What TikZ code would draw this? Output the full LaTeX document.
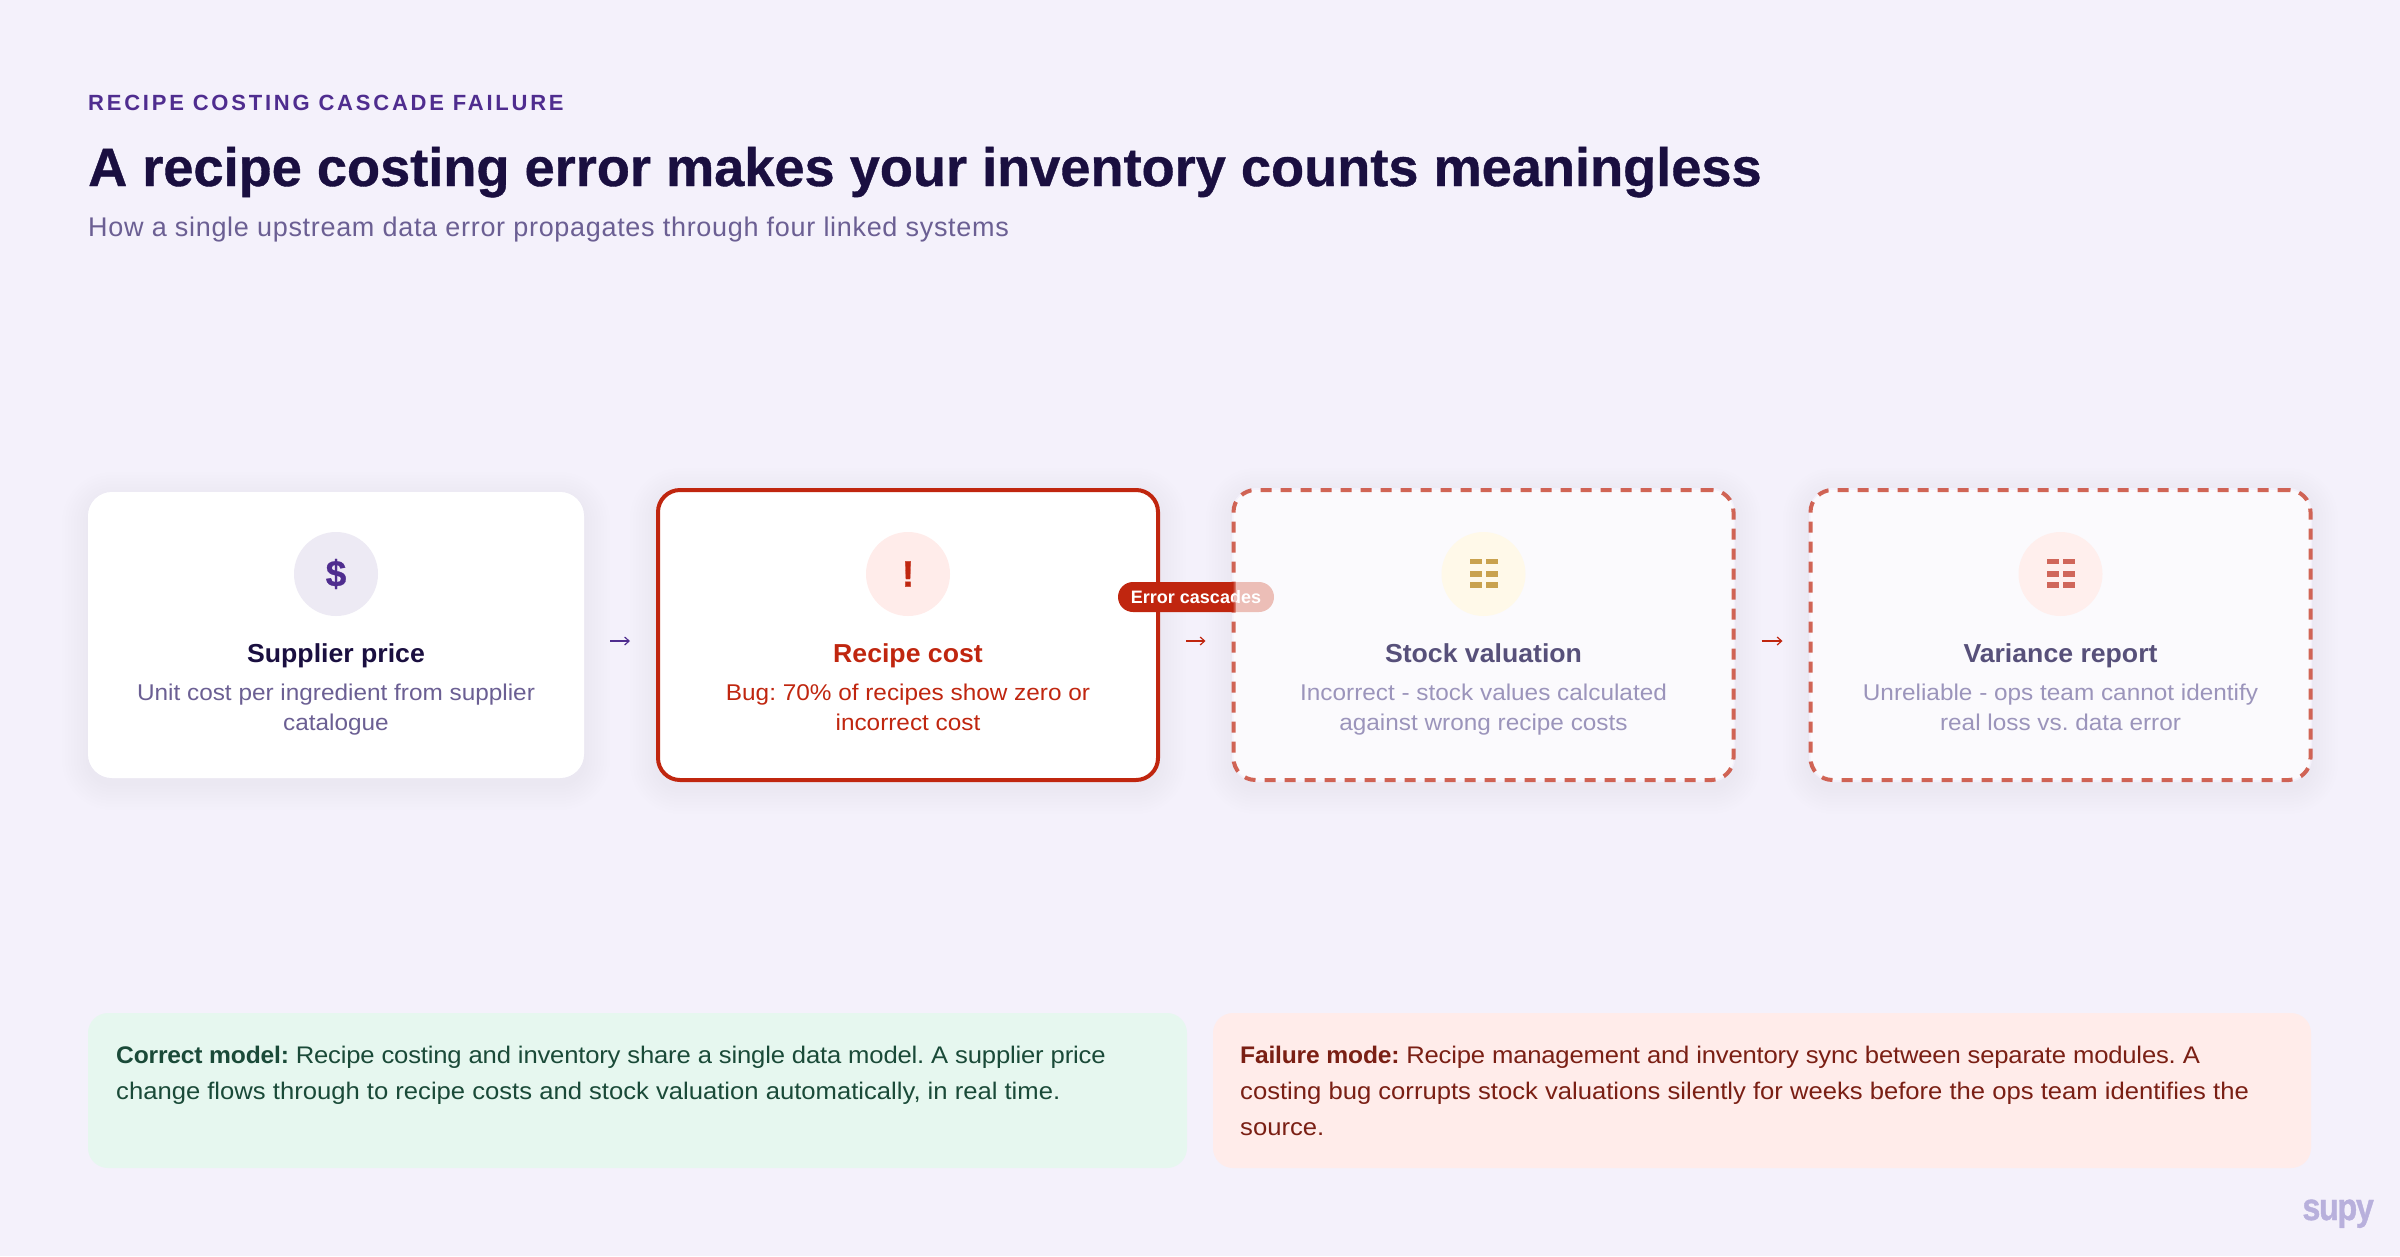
\documentclass[tikz,border=0pt]{standalone}
\usepackage{fontspec}
\setmainfont{Liberation Sans}
\newfontfamily\headfont[FakeBold=.7,FakeStretch=1.003]{Liberation Sans Bold}
\newfontfamily\bodyfont[FakeStretch=1.068,BoldFeatures={FakeStretch=1.025}]{Liberation Sans}
\newfontfamily\logofont[FakeStretch=.85,FakeBold=1]{Liberation Sans Bold}
\usetikzlibrary{arrows.meta}
\definecolor{pagebg}{HTML}{F4F1FB}
\definecolor{ink}{HTML}{1A0F40}
\definecolor{grape}{HTML}{4F2D8F}
\definecolor{muted}{HTML}{6B5F93}
\definecolor{alarm}{HTML}{C0260F}
\definecolor{fadedink}{HTML}{57507A}
\definecolor{fadedmuted}{HTML}{9B94BB}
\definecolor{amber}{HTML}{C9A24E}
\definecolor{coral}{HTML}{D0665A}
\definecolor{mint}{HTML}{E6F7EF}
\definecolor{blush}{HTML}{FFECEA}
\definecolor{pine}{HTML}{1A4A38}
\definecolor{oxblood}{HTML}{7A1F14}
\definecolor{logotint}{HTML}{B8B0DC}
\newcommand{\fs}[2]{\fontsize{#1}{#2}\selectfont}
\newcommand{\snug}{\addfontfeatures{LetterSpace=-.75}}
\newcommand{\cardglow}[4]{%
  \foreach \g in {2,5,...,26}
    \fill[grape,opacity=.005,rounded corners=24pt+\g pt]
      ({#1-\g},{#2-\g+6}) rectangle ({#3+\g},{#4+\g+6});
  \fill[pagebg,rounded corners=24pt] (#1,#2) rectangle (#3,#4);}
\newcommand{\minigrid}[3]{%
  \foreach \r in {-12.5,0,11}
    \foreach \c in {-14,2}
      \fill[#3] ({#1+\c},{#2+\r-3}) rectangle ++(12.5,5.5);}
\tikzset{
  card/.style={rectangle,rounded corners=22pt,minimum width=500pt,minimum height=290pt,inner sep=0pt,fill=white},
  cardred/.style={card,draw=alarm,line width=4pt},
  carddash/.style={card,fill opacity=.7,draw=alarm,draw opacity=.7,line width=4pt,dash pattern=on 11pt off 9pt},
  badge/.style={circle,minimum size=84pt,inner sep=0pt},
  glyph/.style={inner sep=0pt,font=\headfont\fs{37}{37}},
  cardhead/.style={anchor=base,inner sep=0pt,font=\bodyfont\bfseries\fs{26}{30}},
  carddesc/.style={anchor=base,inner sep=0pt,align=center,font=\bodyfont\fs{22.8}{30}},
  flow/.style={-{Straight Barb[length=4.5pt,width=8pt]},line width=1.2pt,shorten >=26pt,shorten <=26pt},
  note/.style={rectangle,rounded corners=20pt,inner sep=0pt},
  notetext/.style={anchor=north west,inner sep=0pt,align=left,font=\bodyfont\fs{24}{36}}
}
\frenchspacing
\begin{document}
\begin{tikzpicture}[x=1pt,y=-1pt]
  \useasboundingbox[fill=pagebg] (0,0) rectangle (2400,1256);
  \node[anchor=base west,inner sep=0pt,text=grape,font=\bfseries\fs{22}{26}\addfontfeatures{LetterSpace=12.6}] (eyebrow) at (88,110) {RECIPE COSTING CASCADE FAILURE};
  \node[anchor=base west,inner sep=0pt,text=ink,font=\headfont\fs{54}{60}] (headline) at (88,186) {A recipe costing error makes your inventory counts meaningless};
  \node[anchor=base west,inner sep=0pt,text=muted,font=\fs{27}{32}\addfontfeatures{LetterSpace=2.55}] (subline) at (88,236) {How a single upstream data error propagates through four linked systems};

  \cardglow{88}{492}{584}{778}
  \cardglow{656}{488}{1160}{782}
  \cardglow{1232}{488}{1735}{782}
  \cardglow{1809}{488}{2312}{782}

  \begin{scope}
   \node[card,minimum width=496pt,minimum height=286pt,rounded corners=24pt] (supplier) at (336,635) {};
   \node[badge,fill=grape!10] (supplierbadge) at (336,574) {};
   \node[glyph,text=grape] (suppliersign) at (336,574) {\$};
   \node[cardhead,text=ink] (supplierhead) at (336,662) {Supplier price};
   \node[carddesc,text=muted] (supplierdesc) at (336,730) {Unit cost per ingredient from supplier\\catalogue};
  \end{scope}
  \begin{scope}
   \node[cardred] (recipe) at (908,635) {};
   \node[badge,fill=blush] (recipebadge) at (908,574) {};
   \node[glyph,text=alarm] (recipesign) at (908,574) {!};
   \node[cardhead,text=alarm] (recipehead) at (908,662) {Recipe cost};
   \node[carddesc,text=alarm] (recipedesc) at (908,730) {Bug: 70\% of recipes show zero or\\incorrect cost};
  \end{scope}
  \node[rectangle,rounded corners=15pt,fill=alarm,text=white,minimum width=156pt,minimum height=30pt,inner sep=0pt,font=\bfseries\fs{18}{20}] (cascade) at (1196,597) {Error cascades};
  \begin{scope}
   \node[carddash] (stock) at (1483.5,635) {};
   \node[badge,fill=yellow!50!orange!8] (stockbadge) at (1483.5,574) {};
   \minigrid{1483.5}{574}{amber}
   \node[cardhead,text=fadedink] (stockhead) at (1483.5,662) {Stock valuation};
   \node[carddesc,text=fadedmuted] (stockdesc) at (1483.5,730) {Incorrect - stock values calculated\\against wrong recipe costs};
  \end{scope}
  \begin{scope}
   \node[carddash] (variance) at (2060.5,635) {};
   \node[badge,fill=blush!85!white] (variancebadge) at (2060.5,574) {};
   \minigrid{2060.5}{574}{coral}
   \node[cardhead,text=fadedink] (variancehead) at (2060.5,662) {Variance report};
   \node[carddesc,text=fadedmuted] (variancedesc) at (2060.5,730) {Unreliable - ops team cannot identify\\real loss vs. data error};
  \end{scope}

  \draw[flow,grape] ([yshift=-6pt]supplier.east) -- ([yshift=-6pt]recipe.west);
  \draw[flow,alarm] ([yshift=-6pt]recipe.east) -- ([yshift=-6pt]stock.west);
  \draw[flow,alarm] ([yshift=-6pt]stock.east) -- ([yshift=-6pt]variance.west);

  \node[note,fill=mint,minimum width=1099pt,minimum height=155pt] (correct) at (637.5,1090.5) {};
  \node[note,fill=blush,minimum width=1098pt,minimum height=155pt] (failure) at (1762,1090.5) {};
  \node[notetext,text=pine] (correcttext) at (116,1046) {{\snug\textbf{Correct model:} Recipe costing and inventory share a single data model. A supplier price}\\change flows through to recipe costs and stock valuation automatically, in real time.};
  \node[notetext,text=oxblood] (failuretext) at (1240,1046) {{\snug\textbf{Failure mode:} Recipe management and inventory sync between separate modules. A}\\costing bug corrupts stock valuations silently for weeks before the ops team identifies the\\source.};
  \node[anchor=base east,inner sep=0pt,text=logotint,font=\logofont\fs{38}{40}\addfontfeatures{LetterSpace=-3.5}] (logo) at (2374,1220) {supy};
\end{tikzpicture}
\end{document}
